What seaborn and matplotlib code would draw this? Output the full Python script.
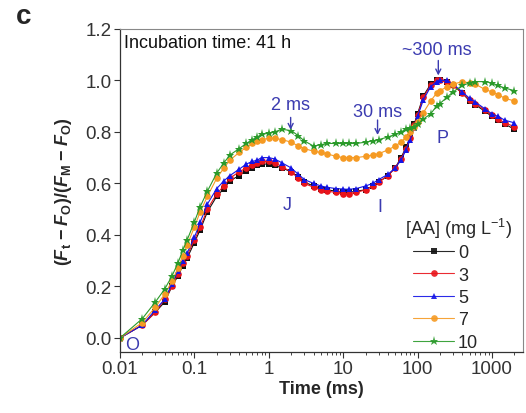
import numpy as np
import pandas as pd
import matplotlib
matplotlib.use("Agg")
import matplotlib.pyplot as plt
import seaborn as sns

# time points (ms)
time_ms = [0.01, 0.02, 0.03, 0.04, 0.05, 0.06, 0.07, 0.08, 0.1, 0.12, 0.15, 0.2,
           0.25, 0.3, 0.4, 0.5, 0.6, 0.7, 0.8, 1.0, 1.2, 1.5, 2.0, 2.5, 3.0, 4.0,
           5.0, 6.0, 8.0, 10, 12, 15, 20, 25, 30, 40, 50, 60, 70, 80, 90, 100,
           120, 150, 180, 200, 250, 300, 400, 500, 600, 800, 1000, 1200, 1500, 2000]

aa_0 = [0.0, 0.05, 0.10, 0.14, 0.20, 0.24, 0.28, 0.31, 0.37, 0.42, 0.49, 0.55,
        0.58, 0.61, 0.63, 0.65, 0.66, 0.67, 0.675, 0.675, 0.67, 0.66, 0.645, 0.625, 0.605, 0.59,
        0.58, 0.575, 0.57, 0.565, 0.565, 0.57, 0.575, 0.59, 0.605, 0.63, 0.66, 0.70, 0.74, 0.78, 0.83, 0.87,
        0.94, 0.985, 1.0, 1.0, 0.995, 0.98, 0.95, 0.92, 0.905, 0.88, 0.86, 0.845, 0.83, 0.81]
aa_3 = [0.0, 0.05, 0.10, 0.15, 0.20, 0.25, 0.29, 0.32, 0.38, 0.43, 0.50, 0.56,
        0.59, 0.62, 0.645, 0.66, 0.67, 0.68, 0.685, 0.685, 0.68, 0.665, 0.645, 0.62, 0.60, 0.585,
        0.575, 0.57, 0.565, 0.56, 0.56, 0.565, 0.575, 0.59, 0.605, 0.63, 0.66, 0.695, 0.735, 0.775, 0.825, 0.865,
        0.935, 0.98, 1.0, 1.0, 0.995, 0.98, 0.95, 0.925, 0.91, 0.885, 0.865, 0.85, 0.835, 0.82]
aa_5 = [0.0, 0.05, 0.11, 0.15, 0.21, 0.26, 0.30, 0.33, 0.39, 0.45, 0.52, 0.58,
        0.61, 0.63, 0.655, 0.675, 0.685, 0.69, 0.70, 0.70, 0.695, 0.68, 0.66, 0.635, 0.615, 0.60,
        0.59, 0.585, 0.58, 0.578, 0.577, 0.58, 0.59, 0.60, 0.615, 0.635, 0.66, 0.69, 0.73, 0.77, 0.815, 0.86,
        0.925, 0.975, 0.995, 1.0, 1.0, 0.985, 0.955, 0.93, 0.915, 0.89, 0.87, 0.86, 0.845, 0.835]
aa_7 = [0.0, 0.06, 0.12, 0.17, 0.22, 0.27, 0.32, 0.36, 0.43, 0.49, 0.55, 0.62,
        0.66, 0.69, 0.72, 0.74, 0.755, 0.765, 0.77, 0.775, 0.775, 0.77, 0.76, 0.745, 0.735, 0.725,
        0.72, 0.715, 0.705, 0.70, 0.70, 0.70, 0.705, 0.71, 0.715, 0.73, 0.745, 0.76, 0.78, 0.80, 0.82, 0.84,
        0.875, 0.92, 0.95, 0.96, 0.975, 0.985, 0.995, 0.99, 0.985, 0.965, 0.955, 0.945, 0.93, 0.92]
aa_10 = [0.0, 0.075, 0.14, 0.19, 0.24, 0.29, 0.34, 0.38, 0.45, 0.51, 0.57, 0.64,
         0.68, 0.71, 0.735, 0.755, 0.77, 0.78, 0.79, 0.795, 0.80, 0.81, 0.805, 0.785, 0.765, 0.745,
         0.75, 0.755, 0.755, 0.755, 0.755, 0.755, 0.76, 0.765, 0.77, 0.78, 0.79, 0.80, 0.81, 0.815, 0.82, 0.83,
         0.85, 0.87, 0.90, 0.91, 0.935, 0.955, 0.98, 0.99, 0.995, 0.995, 0.99, 0.98, 0.97, 0.96]

series_names = ["0", "3", "5", "7", "10"]
series_vals = [aa_0, aa_3, aa_5, aa_7, aa_10]
colors = ["#111111", "#e8141b", "#1414e6", "#f59a23", "#2a9a2a"]
markers = ["s", "o", "^", "o", "*"]
anno_color = "#3b3bb0"

rows = []
for name, vals in zip(series_names, series_vals):
    for t, v in zip(time_ms, vals):
        rows.append({"t": t, "v": v, "AA": name})
df = pd.DataFrame(rows)

sns.set_style("ticks")
plt.rcParams["font.family"] = ["Liberation Sans", "DejaVu Sans"]
plt.rcParams["mathtext.fontset"] = "custom"
plt.rcParams["mathtext.rm"] = "Liberation Sans"
plt.rcParams["mathtext.it"] = "Liberation Sans:italic"
plt.rcParams["mathtext.bf"] = "Liberation Sans:bold"
plt.rcParams["mathtext.bfit"] = "Liberation Sans:bold:italic"

fig = plt.figure(figsize=(5.26, 4.14), dpi=100)
ax = fig.add_axes([0.228, 0.147, 0.766, 0.781])

sns.lineplot(data=df, x="t", y="v", hue="AA", style="AA",
             hue_order=series_names, style_order=series_names,
             palette=dict(zip(series_names, colors)),
             markers=dict(zip(series_names, markers)), dashes=False,
             markersize=4.8, markeredgewidth=0, linewidth=0.8,
             ax=ax, legend=False)
# star marker slightly bigger
for line in ax.lines:
    if line.get_marker() == "*":
        line.set_markersize(6.5)

ax.set_xscale("log")
ax.set_xlim(0.01, 2600)
ax.set_ylim(-0.055, 1.2)
ax.set_yticks([0.0, 0.2, 0.4, 0.6, 0.8, 1.0, 1.2])
ax.set_yticklabels(["0.0", "0.2", "0.4", "0.6", "0.8", "1.0", "1.2"])
ax.set_xticks([0.01, 0.1, 1, 10, 100, 1000])
ax.set_xticklabels(["0.01", "0.1", "1", "10", "100", "1000"])
ax.tick_params(axis="both", labelsize=13.5, direction="out", length=4, width=0.8,
               colors="#333333", labelcolor="#333333", pad=2)
ax.tick_params(axis="x", which="minor", direction="out", length=2, width=0.6)
for s in ["top", "right"]:
    ax.spines[s].set_visible(True)
    ax.spines[s].set_color("#888888")
for s in ["left", "bottom"]:
    ax.spines[s].set_color("#333333")
    ax.spines[s].set_linewidth(0.9)

ax.set_xlabel("Time (ms)", fontsize=13, fontweight="bold", labelpad=2)
ax.set_ylabel(r"$\mathbf{(}\mathbfit{F}_\mathbf{t}\;\mathbf{-}\;\mathbfit{F}_\mathbf{O}\mathbf{)/(}"
              r"\mathbfit{F}_\mathbf{M}\;\mathbf{-}\;\mathbfit{F}_\mathbf{O}\mathbf{)}$",
              fontsize=13, labelpad=8)

ax.text(0.0115, 1.145, "Incubation time: 41 h", fontsize=13, color="#111111", va="center", ha="left")

# annotations: text and arrows
arrow_kw = dict(arrowstyle="->,head_length=0.35,head_width=0.18", color=anno_color, lw=1.0,
                shrinkA=0, shrinkB=0)
ax.text(1.97, 0.905, "2 ms", ha="center", va="center", color=anno_color, fontsize=13)
ax.annotate("", xy=(1.97, 0.808), xytext=(1.97, 0.856), arrowprops=arrow_kw)
ax.text(29, 0.88, "30 ms", ha="center", va="center", color=anno_color, fontsize=13)
ax.annotate("", xy=(29, 0.788), xytext=(29, 0.846), arrowprops=arrow_kw)
ax.text(180, 1.118, "~300 ms", ha="center", va="center", color=anno_color, fontsize=13)
ax.annotate("", xy=(190, 1.019), xytext=(190, 1.077), arrowprops=arrow_kw)
ax.text(0.0148, -0.025, "O", color=anno_color, fontsize=13, ha="center", va="center")
ax.text(1.75, 0.52, "J", color=anno_color, fontsize=13, ha="center", va="center")
ax.text(31, 0.51, "I", color=anno_color, fontsize=13, ha="center", va="center")
ax.text(215, 0.78, "P", color=anno_color, fontsize=13, ha="center", va="center")

# legend: title drawn separately so entries sit under it like the original
handles = [plt.Line2D([], [], color=c, marker=m, markersize=4.8 if m != "*" else 6.5,
                      markeredgewidth=0, linewidth=0.8, alpha=0.9) for c, m in zip(colors, markers)]
ax.legend(handles, series_names, loc="lower left", bbox_to_anchor=(0.727, 0.004),
          frameon=False, fontsize=13, handlelength=2.3, handletextpad=0.2,
          labelspacing=0.3, borderaxespad=0, borderpad=0)
ax.text(0.84, 0.385, r"[AA] (mg L$^{-1}$)", transform=ax.transAxes, fontsize=13,
        ha="center", va="center")

fig.text(0.03, 0.96, "c", fontsize=20, fontweight="bold", va="center")

fig.savefig("out.png", dpi=100)
